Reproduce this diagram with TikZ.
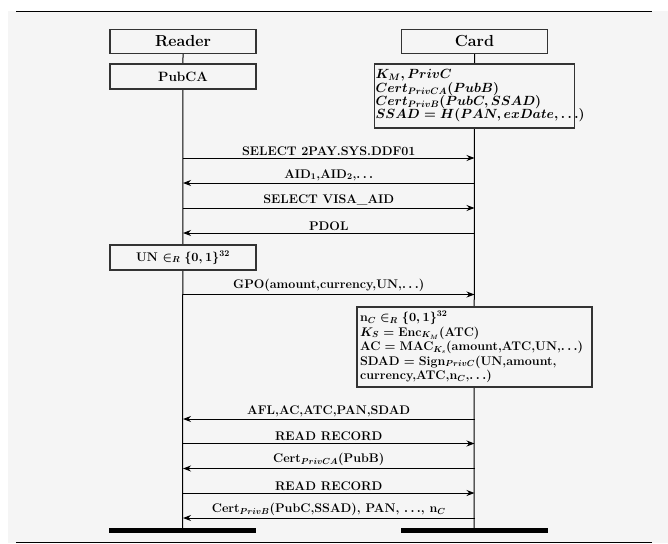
\documentclass[tikz,border=0pt]{standalone}
\usepackage{amsmath}
\usepackage{amssymb}
\usepackage{fontspec}
\usepackage{tikz}
\usetikzlibrary{arrows.meta,backgrounds}

% scalable math fonts
\DeclareFontShape{OML}{cmm}{b}{it}{<->cmmib10}{}
\DeclareFontShape{OML}{cmm}{m}{it}{<->cmmi10}{}
\DeclareFontShape{OMS}{cmsy}{b}{n}{<->cmbsy10}{}
\DeclareFontShape{OMS}{cmsy}{m}{n}{<->cmsy10}{}
\DeclareFontShape{OT1}{cmr}{bx}{n}{<->cmbx10}{}
\DeclareFontShape{OT1}{cmr}{m}{n}{<->cmr10}{}

\tikzset{
    headbox/.style={draw=black!80, line width=1.3pt, fill=gray!8, minimum width=146pt, minimum height=24pt, inner sep=0pt, font=\fontsize{16}{18}\selectfont\bfseries},
    infobox/.style={draw=black!80, line width=1.3pt, fill=gray!8, inner sep=3pt},
    endbar/.style={fill=black, minimum width=147pt, minimum height=5pt, inner sep=0pt},
    msg/.style={line width=1pt, >={Stealth[length=8pt,width=6pt]}},
}

\begin{document}
\begin{tikzpicture}[x=1pt, y=-1pt, font=\fontsize{12.5}{14}\selectfont\bfseries\boldmath]
    \useasboundingbox (0,0) rectangle (668,543);

    % Parties
    \node[headbox] (reader) at (183,41.5) {Reader};
    \node[headbox] (card) at (474.5,41.5) {Card};

    % Initial knowledge
    \node[infobox, minimum width=146pt, minimum height=25pt, font=\fontsize{13.5}{15}\selectfont\bfseries] (pubca) at (183,76.5) {PubCA};
    \node[infobox, inner sep=1pt, text width=198pt, minimum height=64pt, align=left, font=\fontsize{13.3}{13.3}\selectfont\bfseries\boldmath] (keys) at (474.5,96) {%
        $K_M, PrivC$\\
        $Cert_{PrivCA}(PubB)$\\
        $Cert_{PrivB}(PubC, SSAD)$\\
        \mbox{$SSAD = H(PAN, exDate, \ldots)$}};

    % Reader nonce
    \node[infobox, minimum width=146pt, minimum height=25pt] (un) at (183,257.5) {UN $\in_R \{0,1\}^{32}$};

    % Card computation
    \node[infobox, text width=229pt, minimum height=80pt, align=left, font=\fontsize{12.5}{14.5}\selectfont\bfseries\boldmath] (comp) at (474.5,347) {%
        n$_C \in_R \{0,1\}^{32}$\\
        $K_S$ = Enc$_{K_M}$(ATC)\\
        \mbox{AC = MAC$_{K_s}$(amount,ATC,UN,$\ldots$)}\\
        \mbox{SDAD = Sign$_{PrivC}$(UN,amount,}\\
        currency,ATC,n$_C$,$\ldots$)};

    % End of run
    \node[endbar] (rend) at (182.5,530.5) {};
    \node[endbar] (cend) at (474,530.5) {};

    \begin{scope}[on background layer]
        \fill[gray!8] (8,11) rectangle (668,543);
        \draw[line width=1pt] (16,12) -- (652,12);
        \draw[line width=1pt] (16,542) -- (652,542);
        % Lifelines
        \draw[line width=1pt] (reader.south) -- (rend.north);
        \draw[line width=1pt] (card.south) -- (cend.north);
    \end{scope}

    % Messages
    \foreach \i/\y/\dir/\txt in {
        1/158/->/{SELECT 2PAY.SYS.DDF01},
        2/183/<-/{AID$_1$,AID$_2$,$\ldots$},
        3/208/->/{SELECT VISA\_AID},
        4/233/<-/{PDOL},
        5/294.5/->/{GPO(amount,currency,UN,$\ldots$)},
        6/419/<-/{AFL,AC,ATC,PAN,SDAD},
        7/443.5/->/{READ RECORD},
        8/468.5/<-/{Cert$_{PrivCA}$(PubB)},
        9/493/->/{READ RECORD},
        10/518/<-/{Cert$_{PrivB}$(PubC,SSAD), PAN, $\ldots$, n$_C$}} {
        \coordinate (r\i) at (reader |- 0,\y);
        \coordinate (c\i) at (card |- 0,\y);
        \draw[msg, \dir] (r\i) -- (c\i) node[midway, above, inner sep=2pt] {\txt};
    }
\end{tikzpicture}
\end{document}
